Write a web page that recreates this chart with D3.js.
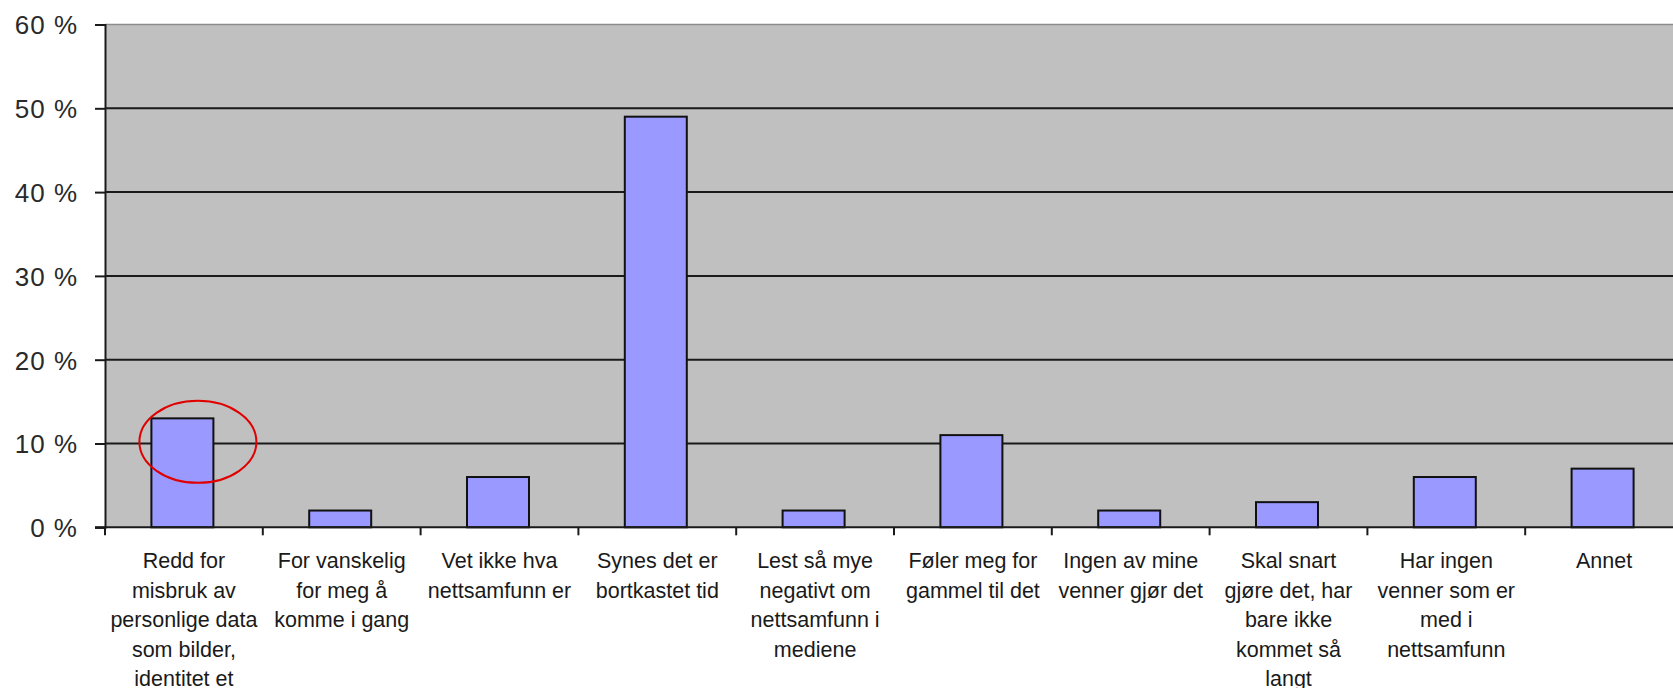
<!DOCTYPE html>
<html>
<head>
<meta charset="utf-8">
<script src="https://cdn.jsdelivr.net/npm/d3@7"></script>
<style>
  body { margin: 0; background: #fff; }
  text { font-family: "Liberation Sans", Arial, sans-serif; fill: #1a1a1a; }
</style>
</head>
<body>
<svg id="chart" width="1673" height="688"></svg>
<script>
// values, in percent
var categories = [
    "Redd for misbruk av personlige data som bilder, identitet et",
    "For vanskelig for meg å komme i gang",
    "Vet ikke hva nettsamfunn er",
    "Synes det er bortkastet tid",
    "Lest så mye negativt om nettsamfunn i mediene",
    "Føler meg for gammel til det",
    "Ingen av mine venner gjør det",
    "Skal snart gjøre det, har bare ikke kommet så langt",
    "Har ingen venner som er med i nettsamfunn",
    "Annet"
];
var values = [13, 2, 6, 49, 2, 11, 2, 3, 6, 7];
var labelLines = [
    ["Redd for", "misbruk av", "personlige data", "som bilder,", "identitet et"],
    ["For vanskelig", "for meg å", "komme i gang"],
    ["Vet ikke hva", "nettsamfunn er"],
    ["Synes det er", "bortkastet tid"],
    ["Lest så mye", "negativt om", "nettsamfunn i", "mediene"],
    ["Føler meg for", "gammel til det"],
    ["Ingen av mine", "venner gjør det"],
    ["Skal snart", "gjøre det, har", "bare ikke", "kommet så", "langt"],
    ["Har ingen", "venner som er", "med i", "nettsamfunn"],
    ["Annet"]
];
var yTicks = [0, 10, 20, 30, 40, 50, 60];
var highlighted = 0; // the circled bar

var svg = d3.select('#chart');
var plotLeft = 105, plotTop = 24.5, plotBottom = 527.3, step = 157.8;

var xScale = d3.scaleBand().domain(categories).range([plotLeft, plotLeft + step * categories.length]);
var yScale = d3.scaleLinear().domain([0, 60]).range([plotBottom, plotTop]);
var plotRight = xScale.range()[1];

// plot area
svg.append('rect')
    .attr('x', plotLeft).attr('y', plotTop)
    .attr('width', plotRight - plotLeft).attr('height', plotBottom - plotTop)
    .style('fill', '#c0c0c0');
svg.append('line')
    .attr('x1', plotLeft).attr('x2', plotRight)
    .attr('y1', plotTop).attr('y2', plotTop)
    .style('stroke', '#8c8c8c').style('stroke-width', 1.5);

// gridlines
svg.append('g').selectAll('line').data(yTicks.filter(function(d) { return d > 0 && d < 60 }))
    .enter().append('line')
    .attr('x1', plotLeft).attr('x2', plotRight)
    .attr('y1', function(d) { return yScale(d) }).attr('y2', function(d) { return yScale(d) })
    .style('stroke', '#1a1a1a').style('stroke-width', 2);

// y axis
var yAxis = d3.axisLeft(yScale).tickValues(yTicks).tickSize(10).tickPadding(17)
    .tickFormat(function(d) { return d + ' %' });
var yG = svg.append('g').attr('transform', 'translate(' + plotLeft + ',0)').call(yAxis);
yG.select('.domain').style('stroke', '#1a1a1a').style('stroke-width', 2);
yG.selectAll('.tick line').style('stroke', '#1a1a1a').style('stroke-width', 2);
yG.selectAll('.tick text').style('font-size', '26px').style('letter-spacing', '1px')
    .style('font-family', '"Liberation Sans", Arial, sans-serif')
    .style('fill', '#2a2a2a').attr('dy', '0.36em');

// bars
var barW = 62;
svg.append('g').selectAll('rect').data(values)
    .enter().append('rect')
    .attr('x', function(d, i) { return xScale(categories[i]) + xScale.bandwidth() / 2 - barW / 2 - 1.5 })
    .attr('width', barW)
    .attr('y', function(d) { return yScale(d) })
    .attr('height', function(d) { return plotBottom - yScale(d) })
    .style('fill', '#9999ff')
    .style('stroke', '#111').style('stroke-width', 2);

// x axis line and category ticks
svg.append('line')
    .attr('x1', plotLeft - 10).attr('x2', plotRight)
    .attr('y1', plotBottom).attr('y2', plotBottom)
    .style('stroke', '#1a1a1a').style('stroke-width', 2);
svg.append('g').selectAll('line').data(d3.range(categories.length + 1))
    .enter().append('line')
    .attr('x1', function(i) { return plotLeft + i * xScale.step() })
    .attr('x2', function(i) { return plotLeft + i * xScale.step() })
    .attr('y1', plotBottom).attr('y2', plotBottom + 8)
    .style('stroke', '#1a1a1a').style('stroke-width', 2);

// category labels
var labels = svg.append('g').selectAll('text').data(labelLines)
    .enter().append('text')
    .attr('text-anchor', 'middle')
    .style('font-size', '21.5px')
    .attr('transform', function(d, i) {
        return 'translate(' + (xScale(categories[i]) + xScale.bandwidth() / 2) + ',' + 568 + ')'
    });
labels.selectAll('tspan').data(function(d) { return d })
    .enter().append('tspan')
    .attr('x', 0)
    .attr('y', function(d, j) { return j * 29.5 })
    .text(function(d) { return d });

// red circle round the first bar
svg.append('ellipse')
    .attr('cx', xScale(categories[highlighted]) + xScale.bandwidth() / 2 + 14)
    .attr('cy', yScale(values[highlighted]) + 23.5)
    .attr('rx', 58.5).attr('ry', 41)
    .style('fill', 'none').style('stroke', '#e00000').style('stroke-width', 2);
</script>
</body>
</html>
